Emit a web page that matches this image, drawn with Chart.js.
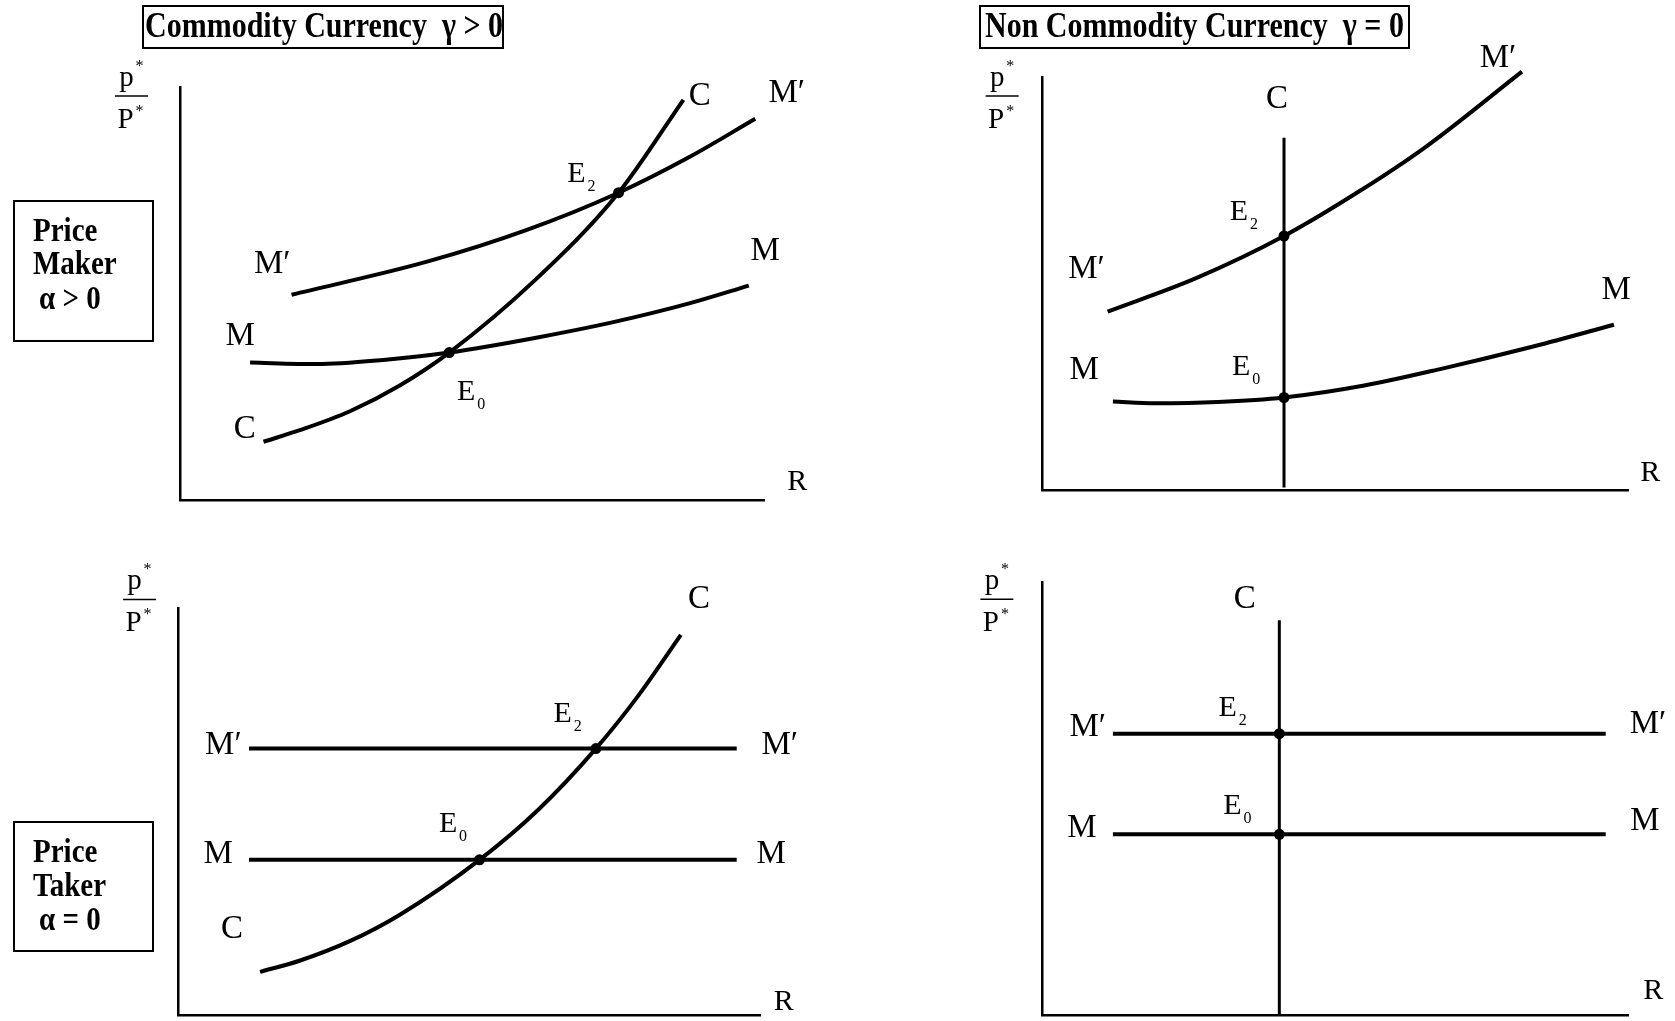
<!DOCTYPE html>
<html>
<head>
<meta charset="utf-8">
<script src="https://cdn.jsdelivr.net/npm/chart.js@4.4.1/dist/chart.umd.min.js"></script>
<style>
  body { margin: 0; background: #fff; }
  #page { position: relative; width: 1675px; height: 1021px; overflow: hidden;
          font-family: "Liberation Serif", "Times New Roman", serif; }
  canvas { position: absolute; }
  .box { position: absolute; border: 2px solid #000; box-sizing: border-box; }
  .ttl { position: absolute; font-weight: bold; font-size: 30px; line-height: 30px; white-space: nowrap;
         transform: scaleY(1.17); transform-origin: 0 25.1px; }
  .side { position: absolute; font-weight: bold; font-size: 29px; line-height: 29px; white-space: nowrap;
          transform: scaleY(1.13); transform-origin: 0 24.3px; }
</style>
</head>
<body>
<div id="page">
  <canvas id="tl"></canvas>
  <canvas id="tr"></canvas>
  <canvas id="bl"></canvas>
  <canvas id="br"></canvas>

  <div class="box" style="left:142px;top:5px;width:362px;height:44px;"></div>
  <span class="ttl" style="left:145px;top:11.6px;">Commodity Currency&nbsp; γ &gt; 0</span>
  <div class="box" style="left:979px;top:5px;width:431px;height:44px;"></div>
  <span class="ttl" style="left:985px;top:11.6px;">Non Commodity Currency&nbsp; γ = 0</span>

  <div class="box" style="left:13px;top:200px;width:141px;height:142px;"></div>
  <span class="side" style="left:33px;top:217px;">Price</span>
  <span class="side" style="left:33px;top:250px;">Maker</span>
  <span class="side" style="left:39px;top:285px;">α &gt; 0</span>

  <div class="box" style="left:13px;top:821px;width:141px;height:131px;"></div>
  <span class="side" style="left:33px;top:838px;">Price</span>
  <span class="side" style="left:33px;top:872px;">Taker</span>
  <span class="side" style="left:39px;top:906px;">α = 0</span>
</div>

<script>
// ---- data (axis units 0..10 on both axes of every panel) ----

// top left: commodity currency, price maker
const tlC_x  = [1.43, 2.05, 2.91, 3.77, 4.61, 6.06, 7.51, 8.62];
const tlC_y  = [1.41, 1.69, 2.15, 2.78, 3.57, 5.30, 7.44, 9.69];
const tlM2_x = [1.91, 4.23, 5.94, 7.51, 8.73, 9.85];
const tlM2_y = [4.97, 5.77, 6.54, 7.44, 8.31, 9.23];
const tlM_x  = [1.20, 2.34, 3.48, 4.61, 6.10, 7.40, 8.72, 9.74];
const tlM_y  = [3.33, 3.29, 3.39, 3.57, 3.93, 4.30, 4.76, 5.19];
const tlE_x  = [4.61, 7.51];
const tlE_y  = [3.57, 7.44];

// top right: non commodity currency, price maker
const trC_x  = [4.13, 4.13];
const trC_y  = [0.06, 8.53];
const trM2_x = [1.12, 2.63, 4.13, 5.40, 6.55, 8.19];
const trM2_y = [4.32, 5.13, 6.15, 7.22, 8.31, 10.13];
const trM_x  = [1.21, 1.93, 3.00, 4.13, 5.50, 6.83, 8.40, 9.76];
const trM_y  = [2.14, 2.10, 2.13, 2.24, 2.53, 2.94, 3.48, 4.00];
const trE_x  = [4.13, 4.13];
const trE_y  = [2.24, 6.15];

// bottom left: commodity currency, price taker
const blC_x  = [1.41, 2.10, 2.96, 3.82, 5.18, 6.19, 7.18, 7.91, 8.64];
const blC_y  = [1.07, 1.35, 1.83, 2.48, 3.82, 5.05, 6.55, 7.85, 9.34];
const blM2_x = [1.22, 9.60];
const blM2_y = [6.55, 6.55];
const blM_x  = [1.22, 9.60];
const blM_y  = [3.82, 3.82];
const blE_x  = [5.18, 7.18];
const blE_y  = [3.82, 6.55];

// bottom right: non commodity currency, price taker
const brC_x  = [4.05, 4.05];
const brC_y  = [0, 9.12];
const brM2_x = [1.21, 9.62];
const brM2_y = [6.50, 6.50];
const brM_x  = [1.21, 9.62];
const brM_y  = [4.18, 4.18];
const brE_x  = [4.05, 4.05];
const brE_y  = [4.18, 6.50];

const SERIF = '"Liberation Serif", "Times New Roman", serif';

const zip = (xs, ys) => xs.map((x, i) => ({ x, y: ys[i] }));

function curve(xs, ys, width) {
  return { data: zip(xs, ys), showLine: true, borderColor: '#000', borderWidth: width,
           pointRadius: 0, cubicInterpolationMode: 'monotone', clip: false };
}
function straight(xs, ys, width) {
  return { data: zip(xs, ys), showLine: true, borderColor: '#000', borderWidth: width,
           pointRadius: 0, tension: 0, clip: false };
}
function dots(xs, ys) {
  return { data: zip(xs, ys), showLine: false, pointRadius: 5.5, pointBackgroundColor: '#000',
           pointBorderWidth: 0, clip: false };
}

// labels, the p*/P* fraction and E subscripts, placed through the scales
const figureText = {
  id: 'figureText',
  afterDraw(chart, args, opts) {
    const { ctx } = chart;
    const sx = chart.scales.x, sy = chart.scales.y;
    const px = v => sx.getPixelForValue(v), py = v => sy.getPixelForValue(v);
    ctx.save();
    ctx.fillStyle = '#000';
    ctx.strokeStyle = '#000';
    ctx.textAlign = 'center';
    ctx.textBaseline = 'alphabetic';

    const cx = px(opts.fraction[0]), ly = py(opts.fraction[1]);
    ctx.lineWidth = 1.5;
    ctx.beginPath();
    ctx.moveTo(cx - 16.5, ly);
    ctx.lineTo(cx + 16.5, ly);
    ctx.stroke();
    ctx.font = `29px ${SERIF}`;
    ctx.fillText('p', cx - 5, ly - 10);
    ctx.fillText('P', cx - 6, ly + 32);
    ctx.font = `16px ${SERIF}`;
    ctx.fillText('*', cx + 8, ly - 25);
    ctx.fillText('*', cx + 8, ly + 20);

    for (const lab of opts.labels) {
      const x = px(lab.at[0]), y = py(lab.at[1]);
      if (lab.sub) {
        ctx.font = `30px ${SERIF}`;
        ctx.textAlign = 'center';
        ctx.fillText(lab.text, x, y + 10);
        ctx.font = `16px ${SERIF}`;
        ctx.textAlign = 'left';
        ctx.fillText(lab.sub, x + 11, y + 19);
      } else {
        const size = lab.size || 33;
        ctx.font = `${size}px ${SERIF}`;
        ctx.textAlign = 'center';
        ctx.fillText(lab.text, x, y + size * 0.33);
      }
    }
    ctx.restore();
  }
};
Chart.register(figureText);

function axisOpts() {
  return {
    type: 'linear', min: 0, max: 10,
    grid: { display: false, drawTicks: false },
    ticks: { display: false },
    border: { display: true, color: '#000', width: 2.5 }
  };
}

function makePanel(id, box, axes, datasets, text) {
  const canvas = document.getElementById(id);
  canvas.width = box.w;
  canvas.height = box.h;
  canvas.style.left = box.x + 'px';
  canvas.style.top = box.y + 'px';
  new Chart(canvas, {
    type: 'scatter',
    data: { datasets },
    options: {
      responsive: false,
      animation: false,
      events: [],
      layout: { padding: { left: axes.l - box.x, right: box.x + box.w - axes.r,
                           top: axes.t - box.y, bottom: box.y + box.h - axes.b } },
      scales: { x: axisOpts(), y: axisOpts() },
      plugins: { legend: { display: false }, tooltip: { enabled: false }, figureText: text }
    }
  });
}

makePanel('tl', { x: 90, y: 30, w: 745, h: 490 }, { l: 180, r: 764, t: 87, b: 500 }, [
  curve(tlC_x, tlC_y, 4),
  curve(tlM2_x, tlM2_y, 4),
  curve(tlM_x, tlM_y, 4),
  dots(tlE_x, tlE_y)
], {
  fraction: [-0.83, 9.78],
  labels: [
    { text: 'C', at: [8.90, 9.83] },
    { text: 'M′', at: [10.39, 9.91] },
    { text: 'E', sub: '2', at: [6.79, 7.93] },
    { text: 'M′', at: [1.58, 5.77] },
    { text: 'M', at: [10.02, 6.08] },
    { text: 'M', at: [1.03, 4.02] },
    { text: 'E', sub: '0', at: [4.90, 2.66] },
    { text: 'C', at: [1.11, 1.76] },
    { text: 'R', at: [10.57, 0.47], size: 30 }
  ]
});

makePanel('tr', { x: 960, y: 30, w: 715, h: 490 }, { l: 1042, r: 1628, t: 77, b: 490 }, [
  straight(trC_x, trC_y, 3),
  curve(trM2_x, trM2_y, 4),
  curve(trM_x, trM_y, 4),
  dots(trE_x, trE_y)
], {
  fraction: [-0.68, 9.54],
  labels: [
    { text: 'C', at: [4.01, 9.52] },
    { text: 'M′', at: [7.78, 10.50] },
    { text: 'E', sub: '2', at: [3.36, 6.79] },
    { text: 'M′', at: [0.76, 5.40] },
    { text: 'M', at: [9.80, 4.90] },
    { text: 'M', at: [0.72, 2.94] },
    { text: 'E', sub: '0', at: [3.40, 3.03] },
    { text: 'R', at: [10.38, 0.46], size: 30 }
  ]
});

makePanel('bl', { x: 90, y: 530, w: 745, h: 491 }, { l: 178, r: 760, t: 608, b: 1020 }, [
  curve(blC_x, blC_y, 4),
  straight(blM2_x, blM2_y, 4),
  straight(blM_x, blM_y, 4),
  dots(blE_x, blE_y)
], {
  fraction: [-0.66, 10.21],
  labels: [
    { text: 'C', at: [8.95, 10.26] },
    { text: 'E', sub: '2', at: [6.61, 7.44] },
    { text: 'M′', at: [0.78, 6.68] },
    { text: 'M′', at: [10.34, 6.68] },
    { text: 'E', sub: '0', at: [4.64, 4.75] },
    { text: 'M', at: [0.69, 4.01] },
    { text: 'M', at: [10.19, 4.01] },
    { text: 'C', at: [0.93, 2.17] },
    { text: 'R', at: [10.41, 0.39], size: 30 }
  ]
});

makePanel('br', { x: 960, y: 530, w: 715, h: 491 }, { l: 1042, r: 1628, t: 582, b: 1017 }, [
  straight(brC_x, brC_y, 3),
  straight(brM2_x, brM2_y, 4),
  straight(brM_x, brM_y, 4),
  dots(brE_x, brE_y)
], {
  fraction: [-0.77, 9.60],
  labels: [
    { text: 'C', at: [3.46, 9.64] },
    { text: 'E', sub: '2', at: [3.17, 7.15] },
    { text: 'M′', at: [0.78, 6.70] },
    { text: 'M′', at: [10.34, 6.77] },
    { text: 'E', sub: '0', at: [3.25, 4.87] },
    { text: 'M', at: [0.68, 4.36] },
    { text: 'M', at: [10.29, 4.54] },
    { text: 'R', at: [10.43, 0.61], size: 30 }
  ]
});
</script>
</body>
</html>
